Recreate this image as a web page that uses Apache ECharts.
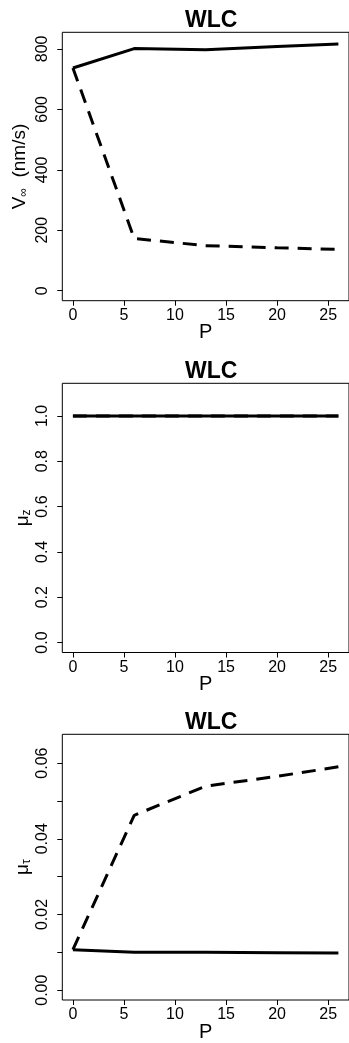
<!DOCTYPE html>
<html>
<head>
<meta charset="utf-8">
<script src="https://cdn.jsdelivr.net/npm/echarts@6/dist/echarts.min.js"></script>
<style>
html,body{margin:0;padding:0;background:#fff;}
#c{width:349px;height:1043px;}
</style>
</head>
<body>
<div id="c"></div>
<script>
// ---- data ----
const P = [0, 6, 13, 20, 26];
const xTicks = [0, 5, 10, 15, 20, 25];
const vInfSolid = [737, 801, 797, 808, 816];
const vInfDashed = [737, 173, 149, 142, 137];
const muZSolid = [1, 1, 1, 1, 1];
const muZDashed = [1, 1, 1, 1, 1];
const muTauSolid = [0.0107, 0.0100, 0.0100, 0.0099, 0.0098];
const muTauDashed = [0.0107, 0.0462, 0.0539, 0.0565, 0.0590];
const yTicks1 = [0, 200, 400, 600, 800];
const yTicks2 = [0, 0.2, 0.4, 0.6, 0.8, 1.0];
const yTicks3 = [0, 0.01, 0.02, 0.03, 0.04, 0.05, 0.06];
const yLabels3 = [0, 0.02, 0.04, 0.06];
const titleText = 'WLC';

const FONT = '"Liberation Sans", Arial, Helvetica, sans-serif';
const pairs = (xs, ys) => xs.map((x, i) => [x, ys[i]]);

const grids = [
  {left: 62.3, top: 32.3, width: 288, height: 268.4},
  {left: 62.3, top: 383.3, width: 288, height: 269.2},
  {left: 62.3, top: 734.3, width: 288, height: 268.7}
];
const yRanges = [[-33, 855], [-0.044, 1.144], [-0.0026, 0.0676]];
const yTickSets = [yTicks1, yTicks2, yTicks3];
const yLabelSets = [yTicks1, yTicks2, yLabels3];
const yFmt = [v => String(Math.round(v)), v => v.toFixed(1), v => v.toFixed(2)];
const yNames = [
  '{a|V}{s|∞}{a|  (nm/s)}',
  '{a|μ}{s|z}',
  '{a|μ}{s|τ}'
];
const yNameGaps = [33, 30, 30];

const option = {
  backgroundColor: '#fff',
  animation: false,
  title: grids.map(g => ({
    text: titleText,
    left: g.left + g.width / 2,
    textAlign: 'center',
    top: g.top - 28,
    textStyle: {fontFamily: FONT, fontWeight: 'bold', fontSize: 23, color: '#000'}
  })),
  grid: grids.map(g => Object.assign({show: true, borderColor: '#000', borderWidth: 1, backgroundColor: 'transparent'}, g)),
  xAxis: grids.map((g, i) => ({
    type: 'value', gridIndex: i, min: -1.04, max: 27.04,
    name: 'P', nameLocation: 'middle', nameGap: 22, nameMoveOverlap: false,
    nameTextStyle: {fontFamily: FONT, fontSize: 20, color: '#000'},
    axisLine: {show: false, onZero: false},
    splitLine: {show: false},
    axisTick: {show: true, inside: false, length: 5, lineStyle: {color: '#000', width: 1}, customValues: xTicks},
    axisLabel: {show: true, margin: 7, fontFamily: FONT, fontSize: 16, color: '#000', customValues: xTicks,
      formatter: v => String(Math.round(v))}
  })),
  yAxis: grids.map((g, i) => ({
    type: 'value', gridIndex: i, min: yRanges[i][0], max: yRanges[i][1],
    name: yNames[i], nameLocation: 'middle', nameGap: yNameGaps[i], nameRotate: 90, nameMoveOverlap: false,
    nameTextStyle: {
      fontFamily: FONT, color: '#000',
      rich: {
        a: {fontFamily: FONT, fontSize: 19, color: '#000', verticalAlign: 'bottom', lineHeight: 21},
        s: {fontFamily: FONT, fontSize: 12, color: '#000', verticalAlign: 'bottom', lineHeight: 14}
      }
    },
    axisLine: {show: false, onZero: false},
    splitLine: {show: false},
    axisTick: {show: true, inside: false, length: 5, lineStyle: {color: '#000', width: 1}, customValues: yTickSets[i]},
    axisLabel: {show: true, rotate: 90, margin: 12, fontFamily: FONT, fontSize: 16, color: '#000',
      customValues: yLabelSets[i], formatter: yFmt[i]}
  })),
  series: [
    [vInfSolid, vInfDashed],
    [muZSolid, muZDashed],
    [muTauSolid, muTauDashed]
  ].flatMap((pair, i) => [
    {type: 'line', xAxisIndex: i, yAxisIndex: i, data: pairs(P, pair[1]), showSymbol: false, symbol: 'none',
      lineStyle: {color: '#000', width: 3, type: [14, 9]}, z: 2},
    {type: 'line', xAxisIndex: i, yAxisIndex: i, data: pairs(P, pair[0]), showSymbol: false, symbol: 'none',
      lineStyle: {color: '#000', width: 3, type: 'solid'}, z: 3}
  ])
};

const chart = echarts.init(document.getElementById('c'), null, {renderer: 'canvas'});
chart.setOption(option);
</script>
</body>
</html>
